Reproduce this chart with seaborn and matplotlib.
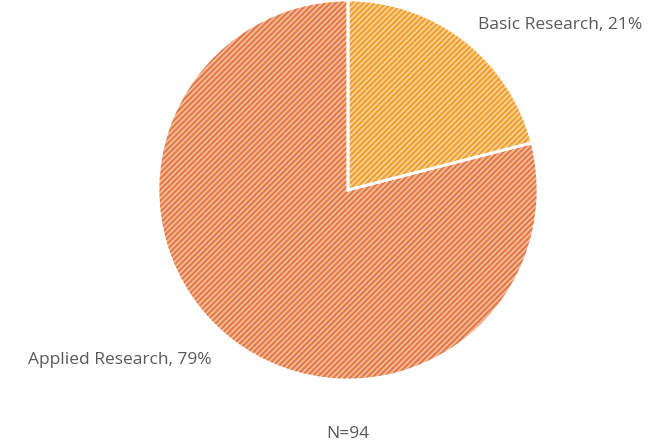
import matplotlib
matplotlib.use("Agg")
import matplotlib.pyplot as plt
import seaborn as sns

categories = ["Basic Research", "Applied Research"]
shares = [21, 79]
n_total = 94

face_colors = ["#FAD49A", "#F4BFA2"]
hatch_colors = ["#F0A030", "#E47A45"]

sns.set_theme(style="white")
plt.rcParams["font.family"] = ["Open Sans", "DejaVu Sans"]
plt.rcParams["hatch.linewidth"] = 1.6

W, H = 671, 443
fig = plt.figure(figsize=(W / 100, H / 100), dpi=100)
cx, cy, r = 348, 190, 190
ax = fig.add_axes([(cx - r) / W, (H - cy - r) / H, 2 * r / W, 2 * r / H])

# hatched fill: hatch lines take the wedge edge colour
wedges, _ = ax.pie(shares, startangle=90, counterclock=False, radius=1,
                   colors=face_colors)
for w, hc in zip(wedges, hatch_colors):
    w.set_hatch("//////")
    w.set_edgecolor(hc)
    w.set_linewidth(0)

# white separators on top
ax.pie(shares, startangle=90, counterclock=False, radius=1,
       colors=["none", "none"],
       wedgeprops=dict(edgecolor="white", linewidth=2, fill=False))

ax.set_xlim(-1, 1)
ax.set_ylim(-1, 1)
ax.set_aspect("equal")
ax.axis("off")

label_color = "#595959"
fig.text(560 / W, 1 - 25 / H, f"{categories[0]}, {shares[0]}%",
         ha="center", va="center", fontsize=12.5, color=label_color)
fig.text(120 / W, 1 - 360 / H, f"{categories[1]}, {shares[1]}%",
         ha="center", va="center", fontsize=12.5, color=label_color)
fig.text(348 / W, 1 - 434 / H, f"N={n_total}",
         ha="center", va="center", fontsize=12.5, color=label_color)

fig.savefig("out.png", dpi=100, facecolor="white")
